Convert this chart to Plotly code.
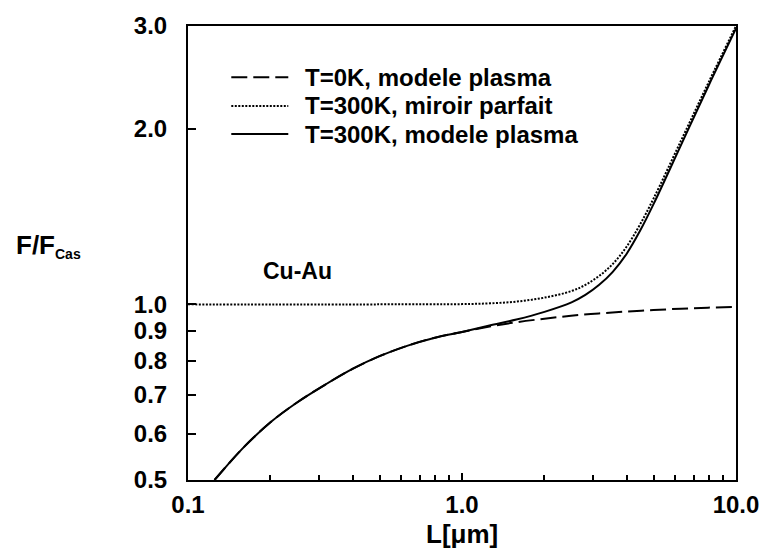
import math
import plotly.graph_objects as go

# ---- data ----
L_t0 = [0.125, 0.158, 0.2, 0.25, 0.316, 0.4, 0.5, 0.63, 0.79, 1.0, 1.26, 1.58, 2.0, 2.5, 3.16, 4.0, 5.0, 6.3, 7.9, 10.0]
F_t0 = [0.5, 0.566, 0.628, 0.679, 0.728, 0.776, 0.815, 0.849, 0.876, 0.897, 0.916, 0.932, 0.945, 0.956, 0.965, 0.972, 0.978, 0.983, 0.987, 0.99]

L_mirror = [0.1, 0.5, 1.0, 1.26, 1.58, 2.0, 2.51, 2.82, 3.16, 3.55, 3.98, 4.47, 5.01, 6.31, 7.94, 10.0]
F_mirror = [1.0, 1.0, 1.001, 1.004, 1.011, 1.027, 1.054, 1.080, 1.118, 1.173, 1.254, 1.372, 1.521, 1.911, 2.401, 3.0]

L_plasma = [0.125, 0.158, 0.2, 0.25, 0.316, 0.4, 0.5, 0.63, 0.79, 1.0, 1.26, 1.58, 2.0, 2.51, 2.82, 3.16, 3.55, 3.98, 4.47, 5.01, 6.31, 7.94, 10.0]
F_plasma = [0.5, 0.566, 0.628, 0.679, 0.728, 0.776, 0.815, 0.849, 0.876, 0.897, 0.920, 0.942, 0.971, 1.008, 1.038, 1.079, 1.137, 1.219, 1.338, 1.488, 1.879, 2.370, 2.97]

series_names = ["T=0K, modele plasma", "T=300K, miroir parfait", "T=300K, modele plasma"]
series_dash = ["16px,6px", "2px,1.5px", "solid"]

x_tickvals = [0.1, 1.0, 10.0]
x_ticktext = ["0.1", "1.0", "10.0"]
x_minor = [0.2, 0.3, 0.4, 0.5, 0.6, 0.7, 0.8, 0.9, 2, 3, 4, 5, 6, 7, 8, 9]
y_tickvals = [0.5, 0.6, 0.7, 0.8, 0.9, 1.0, 2.0, 3.0]
y_ticktext = ["0.5", "0.6", "0.7", "0.8", "0.9", "1.0", "2.0", "3.0"]

FONT = "Liberation Sans, Arial, Helvetica, sans-serif"

fig = go.Figure()
data = [(L_t0, F_t0), (L_mirror, F_mirror), (L_plasma, F_plasma)]
for (xs, ys), name, dash in zip(data, series_names, series_dash):
    fig.add_trace(go.Scatter(
        x=xs, y=ys, mode="lines", name=name, showlegend=False,
        line=dict(color="black", width=2, dash=dash, shape="spline", smoothing=1.0),
        hoverinfo="skip",
    ))

# manual legend (paper coordinates)
rows_y = [0.887, 0.824, 0.762]
for ry, name, dash in zip(rows_y, series_names, series_dash):
    fig.add_shape(type="line", xref="paper", yref="paper",
                  x0=0.079, x1=0.183, y0=ry, y1=ry,
                  line=dict(color="black", width=2, dash=dash))
    fig.add_annotation(x=0.21, y=ry, xref="paper", yref="paper", text=name,
                       showarrow=False, xanchor="left", yanchor="middle",
                       font=dict(family=FONT, size=24, color="black", weight="bold"))

fig.add_annotation(x=0.2, y=0.461, xref="paper", yref="paper", text="Cu-Au",
                   showarrow=False, xanchor="center", yanchor="middle",
                   font=dict(family=FONT, size=23, color="black", weight="bold"))

fig.add_annotation(x=-0.318, y=0.515, xref="paper", yref="paper",
                   text="F/F<sub><span style='font-size:14px'>Cas</span></sub>",
                   showarrow=False, xanchor="left", yanchor="middle",
                   font=dict(family=FONT, size=26, color="black", weight="bold"))

fig.add_annotation(x=0.5, y=-0.118, xref="paper", yref="paper",
                   text="L[\u03bcm]", showarrow=False, xanchor="center", yanchor="middle",
                   font=dict(family=FONT, size=26, color="black", weight="bold"))

fig.update_layout(
    width=771, height=554,
    margin=dict(l=188, r=27, t=20, b=74),
    paper_bgcolor="white", plot_bgcolor="white",
    showlegend=False,
)
fig.update_xaxes(
    type="log", range=[-1, 1],
    tickmode="array", tickvals=x_tickvals, ticktext=x_ticktext,
    ticks="inside", ticklen=7, tickwidth=1.5, tickcolor="black",
    minor=dict(tickmode="array", tickvals=x_minor, ticks="inside", ticklen=5,
               tickwidth=1.5, tickcolor="black", showgrid=False),
    showline=True, linecolor="black", linewidth=2, mirror=True,
    showgrid=False, zeroline=False,
    tickfont=dict(family=FONT, size=24, color="black", weight="bold"),
    ticklabelstandoff=2,
)
fig.update_yaxes(
    type="log", autorange=False,
    range=[math.log10(0.5), math.log10(3.0)],
    tickmode="array", tickvals=y_tickvals, ticktext=y_ticktext,
    ticks="inside", ticklen=8, tickwidth=1.5, tickcolor="black",
    showline=True, linecolor="black", linewidth=2, mirror=True,
    showgrid=False, zeroline=False,
    tickfont=dict(family=FONT, size=24, color="black", weight="bold"),
    ticklabelstandoff=14,
)

fig.write_html("out.html")
